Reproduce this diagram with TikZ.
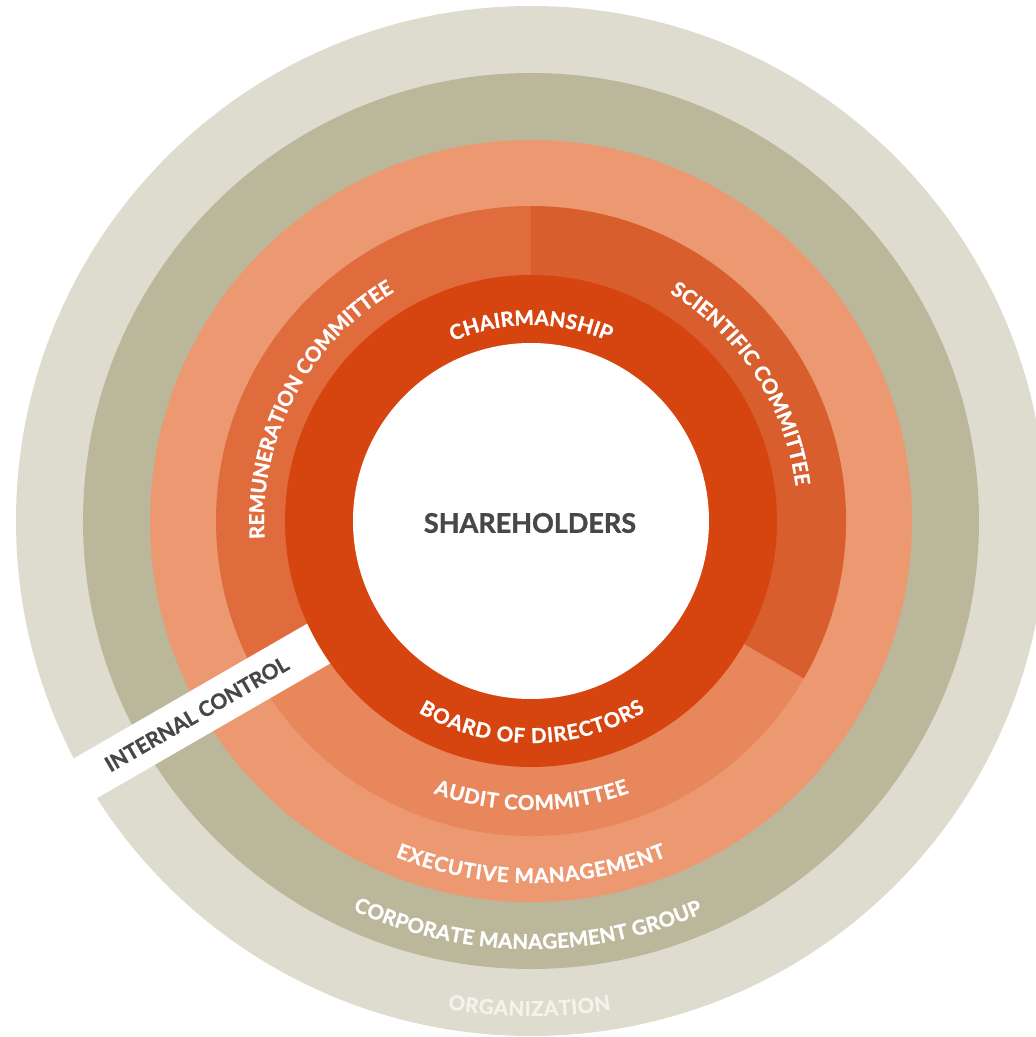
\documentclass[tikz,border=0pt]{standalone}
\usepackage{fontspec}
\setmainfont{Lato}[BoldFeatures={FakeBold=1.2}]
\usetikzlibrary{decorations.text}

\definecolor{orgring}{HTML}{DEDCCE}
\definecolor{cmgring}{HTML}{BBB79B}
\definecolor{execring}{HTML}{EC9870}
\definecolor{remcol}{HTML}{E06C3E}
\definecolor{scicol}{HTML}{D85E2E}
\definecolor{auditcol}{HTML}{E8875C}
\definecolor{boardring}{HTML}{D6440F}
\definecolor{inktext}{HTML}{474747}
\definecolor{orgtext}{HTML}{F4F3EC}

\newcommand\ringfont{\fontsize{20.5pt}{24pt}\selectfont\bfseries}

\tikzset{
  arctext/.style n args={2}{decorate, decoration={text along path,
      text align=fit to path, text color=#1, text={|\ringfont|#2}}},
  ring/.style={fill=#1},
}

\begin{document}
\begin{tikzpicture}
\useasboundingbox (-531pt,-516pt) rectangle (505pt,521pt);

% concentric rings, outermost first
\fill[ring=orgring]  (0,0) circle[radius=515pt];
\fill[ring=cmgring]  (0,0) circle[radius=448pt];
\fill[ring=execring] (0,0) circle[radius=381pt];

% committee ring split into three sectors
\fill[remcol]   (0,0) -- (90:315pt)  arc[start angle=90,  end angle=210, radius=315pt] -- cycle;
\fill[auditcol] (0,0) -- (210:315pt) arc[start angle=210, end angle=330, radius=315pt] -- cycle;
\fill[scicol]   (0,0) -- (-30:315pt) arc[start angle=-30, end angle=90,  radius=315pt] -- cycle;

% internal control strip
\fill[white, rotate=210] (0pt,-23pt) rectangle (560pt,23pt);

% board ring and centre
\fill[ring=boardring] (0,0) circle[radius=246pt];
\fill[white] (0,0) circle[radius=178pt];

% labels along the rings
\path[arctext={white}{CHAIRMANSHIP}]
  (113.5:196pt) arc[start angle=113.5, end angle=66.5, radius=196pt];
\path[arctext={white}{SCIENTIFIC COMMITTEE}]
  (58.7:267pt) arc[start angle=58.7, end angle=7.5, radius=267pt];
\path[arctext={white}{REMUNERATION COMMITTEE}]
  (183.8:267pt) arc[start angle=183.8, end angle=120.8, radius=267pt];
\path[arctext={white}{BOARD OF DIRECTORS}]
  (239.5:222pt) arc[start angle=239.5, end angle=301, radius=222pt];
\path[arctext={white}{AUDIT COMMITTEE}]
  (250.3:289pt) arc[start angle=250.3, end angle=289.9, radius=289pt];
\path[arctext={white}{EXECUTIVE MANAGEMENT}]
  (248:362pt) arc[start angle=248, end angle=292, radius=362pt];
\path[arctext={white}{CORPORATE MANAGEMENT GROUP}]
  (245.4:428pt) arc[start angle=245.4, end angle=293.7, radius=428pt];
\path[arctext={orgtext}{ORGANIZATION}]
  (260.3:495pt) arc[start angle=260.3, end angle=279.3, radius=495pt];

\node (shareholders) [text=inktext, font=\fontsize{27pt}{30pt}\selectfont\bfseries]
  at (-1pt,-2pt) {SHAREHOLDERS};
\node (internal) [rotate=30, text=inktext, font=\fontsize{21pt}{24pt}\selectfont\bfseries]
  at (210:386pt) {INTERNAL CONTROL};
\end{tikzpicture}
\end{document}
